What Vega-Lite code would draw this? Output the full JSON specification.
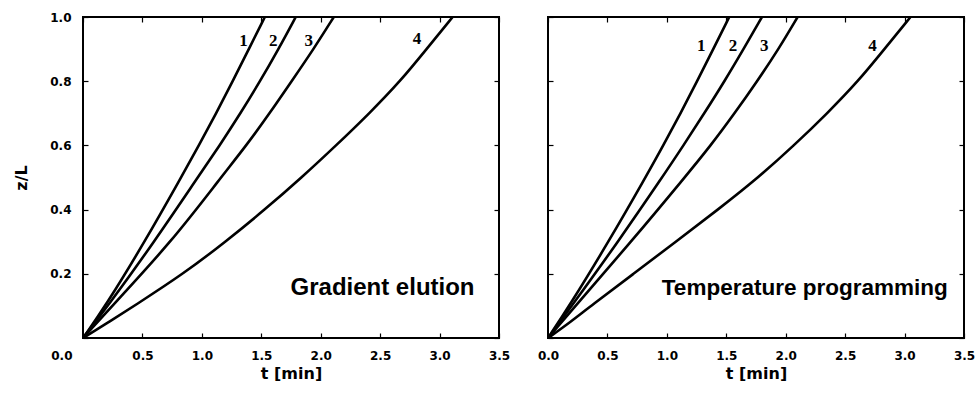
{
  "$schema": "https://vega.github.io/schema/vega-lite/v6.json",
  "background": "white",
  "padding": {"left": 12, "top": 10, "right": 11, "bottom": 5},
  "spacing": 25,
  "config": {
    "view": {"stroke": "black", "strokeWidth": 2},
    "axis": {"domain": false, "grid": false, "minExtent": 0, "tickColor": "black", "tickSize": -5, "tickWidth": 1.2, "labelFont": "DejaVu Sans", "labelFontWeight": "bold", "labelFontSize": 12, "labelColor": "black", "titleFont": "DejaVu Sans", "titleFontWeight": "bold", "titleFontSize": 16, "titleColor": "black"},
    "line": {"color": "black", "strokeWidth": 2.6, "interpolate": "basis"}
  },
  "datasets": {
    "gradient": [
      {"curve": "1", "t": 0, "z": 0}, {"curve": "1", "t": 0.19, "z": 0.1}, {"curve": "1", "t": 0.52, "z": 0.3}, {"curve": "1", "t": 0.825, "z": 0.5}, {"curve": "1", "t": 0.975, "z": 0.6}, {"curve": "1", "t": 1.12, "z": 0.7}, {"curve": "1", "t": 1.26, "z": 0.8}, {"curve": "1", "t": 1.395, "z": 0.9}, {"curve": "1", "t": 1.53, "z": 1.0},
      {"curve": "2", "t": 0, "z": 0}, {"curve": "2", "t": 0.21, "z": 0.1}, {"curve": "2", "t": 0.6, "z": 0.3}, {"curve": "2", "t": 0.965, "z": 0.5}, {"curve": "2", "t": 1.15, "z": 0.6}, {"curve": "2", "t": 1.325, "z": 0.7}, {"curve": "2", "t": 1.49, "z": 0.8}, {"curve": "2", "t": 1.645, "z": 0.9}, {"curve": "2", "t": 1.79, "z": 1.0},
      {"curve": "3", "t": 0, "z": 0}, {"curve": "3", "t": 0.245, "z": 0.1}, {"curve": "3", "t": 0.745, "z": 0.3}, {"curve": "3", "t": 1.16, "z": 0.5}, {"curve": "3", "t": 1.375, "z": 0.6}, {"curve": "3", "t": 1.57, "z": 0.7}, {"curve": "3", "t": 1.755, "z": 0.8}, {"curve": "3", "t": 1.94, "z": 0.9}, {"curve": "3", "t": 2.11, "z": 1.0},
      {"curve": "4", "t": 0, "z": 0}, {"curve": "4", "t": 0.22, "z": 0.05}, {"curve": "4", "t": 0.43, "z": 0.1}, {"curve": "4", "t": 0.845, "z": 0.2}, {"curve": "4", "t": 1.2, "z": 0.3}, {"curve": "4", "t": 1.53, "z": 0.4}, {"curve": "4", "t": 1.84, "z": 0.5}, {"curve": "4", "t": 2.13, "z": 0.6}, {"curve": "4", "t": 2.41, "z": 0.7}, {"curve": "4", "t": 2.67, "z": 0.8}, {"curve": "4", "t": 2.89, "z": 0.9}, {"curve": "4", "t": 3.11, "z": 1.0}
    ],
    "temperature": [
      {"curve": "1", "t": 0, "z": 0}, {"curve": "1", "t": 0.18, "z": 0.1}, {"curve": "1", "t": 0.51, "z": 0.3}, {"curve": "1", "t": 0.82, "z": 0.5}, {"curve": "1", "t": 0.97, "z": 0.6}, {"curve": "1", "t": 1.115, "z": 0.7}, {"curve": "1", "t": 1.255, "z": 0.8}, {"curve": "1", "t": 1.39, "z": 0.9}, {"curve": "1", "t": 1.525, "z": 1.0},
      {"curve": "2", "t": 0, "z": 0}, {"curve": "2", "t": 0.2, "z": 0.1}, {"curve": "2", "t": 0.59, "z": 0.3}, {"curve": "2", "t": 0.96, "z": 0.5}, {"curve": "2", "t": 1.14, "z": 0.6}, {"curve": "2", "t": 1.315, "z": 0.7}, {"curve": "2", "t": 1.485, "z": 0.8}, {"curve": "2", "t": 1.645, "z": 0.9}, {"curve": "2", "t": 1.8, "z": 1.0},
      {"curve": "3", "t": 0, "z": 0}, {"curve": "3", "t": 0.23, "z": 0.1}, {"curve": "3", "t": 0.7, "z": 0.3}, {"curve": "3", "t": 1.15, "z": 0.5}, {"curve": "3", "t": 1.37, "z": 0.6}, {"curve": "3", "t": 1.57, "z": 0.7}, {"curve": "3", "t": 1.76, "z": 0.8}, {"curve": "3", "t": 1.94, "z": 0.9}, {"curve": "3", "t": 2.1, "z": 1.0},
      {"curve": "4", "t": 0, "z": 0}, {"curve": "4", "t": 0.19, "z": 0.05}, {"curve": "4", "t": 0.36, "z": 0.1}, {"curve": "4", "t": 0.72, "z": 0.2}, {"curve": "4", "t": 1.075, "z": 0.3}, {"curve": "4", "t": 1.43, "z": 0.4}, {"curve": "4", "t": 1.77, "z": 0.5}, {"curve": "4", "t": 2.07, "z": 0.6}, {"curve": "4", "t": 2.35, "z": 0.7}, {"curve": "4", "t": 2.61, "z": 0.8}, {"curve": "4", "t": 2.83, "z": 0.9}, {"curve": "4", "t": 3.05, "z": 1.0}
    ],
    "gradientLabels": [
      {"label": "1", "t": 1.35, "z": 0.925}, {"label": "2", "t": 1.6, "z": 0.925}, {"label": "3", "t": 1.9, "z": 0.925}, {"label": "4", "t": 2.81, "z": 0.93}
    ],
    "temperatureLabels": [
      {"label": "1", "t": 1.29, "z": 0.91}, {"label": "2", "t": 1.556, "z": 0.91}, {"label": "3", "t": 1.82, "z": 0.91}, {"label": "4", "t": 2.73, "z": 0.91}
    ]
  },
  "hconcat": [
    {
      "width": 416,
      "height": 321,
      "layer": [
        {
          "data": {"name": "gradient"},
          "mark": {"type": "line", "clip": true},
          "encoding": {
            "x": {"field": "t", "type": "quantitative", "scale": {"domain": [0, 3.5], "nice": false},
              "axis": {"values": [0, 0.5, 1, 1.5, 2, 2.5, 3, 3.5], "format": ".1f", "title": "t [min]", "labelFlush": false, "labelPadding": 17, "titlePadding": 4,
                "labelAlign": {"condition": {"test": "datum.value === 0", "value": "right"}, "value": "center"},
                "labelOffset": {"condition": {"test": "datum.value === 0", "value": -11}, "value": 0}}},
            "y": {"field": "z", "type": "quantitative", "scale": {"domain": [0, 1], "nice": false},
              "axis": {"values": [0, 0.2, 0.4, 0.6, 0.8, 1], "format": ".1f", "title": "z/L", "labelExpr": "datum.value === 0 ? '' : datum.label", "labelPadding": 17, "titlePadding": 20}},
            "detail": {"field": "curve", "type": "nominal"}
          }
        },
        {
          "data": {"name": "gradientLabels"},
          "mark": {"type": "text", "font": "Liberation Serif", "fontWeight": "bold", "fontSize": 17, "align": "center", "baseline": "middle", "color": "black"},
          "encoding": {
            "x": {"field": "t", "type": "quantitative", "axis": {"orient": "top", "labels": false, "title": null, "values": [0, 0.5, 1, 1.5, 2, 2.5, 3, 3.5]}},
            "y": {"field": "z", "type": "quantitative", "axis": {"orient": "right", "labels": false, "title": null, "values": [0, 0.2, 0.4, 0.6, 0.8, 1]}},
            "text": {"field": "label"}
          }
        },
        {
          "data": {"values": [{"label": "Gradient elution", "t": 2.52, "z": 0.157}]},
          "mark": {"type": "text", "font": "Liberation Sans", "fontWeight": "bold", "fontSize": 24, "align": "center", "baseline": "middle", "color": "black"},
          "encoding": {
            "x": {"field": "t", "type": "quantitative", "axis": null},
            "y": {"field": "z", "type": "quantitative", "axis": null},
            "text": {"field": "label"}
          }
        }
      ],
      "resolve": {"axis": {"x": "independent", "y": "independent"}}
    },
    {
      "width": 416,
      "height": 321,
      "layer": [
        {
          "data": {"name": "temperature"},
          "mark": {"type": "line", "clip": true},
          "encoding": {
            "x": {"field": "t", "type": "quantitative", "scale": {"domain": [0, 3.5], "nice": false},
              "axis": {"values": [0, 0.5, 1, 1.5, 2, 2.5, 3, 3.5], "format": ".1f", "title": "t [min]", "labelFlush": false, "labelPadding": 17, "titlePadding": 4}},
            "y": {"field": "z", "type": "quantitative", "scale": {"domain": [0, 1], "nice": false},
              "axis": {"values": [0, 0.2, 0.4, 0.6, 0.8, 1], "labels": false, "title": null}},
            "detail": {"field": "curve", "type": "nominal"}
          }
        },
        {
          "data": {"name": "temperatureLabels"},
          "mark": {"type": "text", "font": "Liberation Serif", "fontWeight": "bold", "fontSize": 17, "align": "center", "baseline": "middle", "color": "black"},
          "encoding": {
            "x": {"field": "t", "type": "quantitative", "axis": {"orient": "top", "labels": false, "title": null, "values": [0, 0.5, 1, 1.5, 2, 2.5, 3, 3.5]}},
            "y": {"field": "z", "type": "quantitative", "axis": {"orient": "right", "labels": false, "title": null, "values": [0, 0.2, 0.4, 0.6, 0.8, 1]}},
            "text": {"field": "label"}
          }
        },
        {
          "data": {"values": [{"label": "Temperature programming", "t": 2.16, "z": 0.157}]},
          "mark": {"type": "text", "font": "Liberation Sans", "fontWeight": "bold", "fontSize": 22.5, "align": "center", "baseline": "middle", "color": "black"},
          "encoding": {
            "x": {"field": "t", "type": "quantitative", "axis": null},
            "y": {"field": "z", "type": "quantitative", "axis": null},
            "text": {"field": "label"}
          }
        }
      ],
      "resolve": {"axis": {"x": "independent", "y": "independent"}}
    }
  ]
}
